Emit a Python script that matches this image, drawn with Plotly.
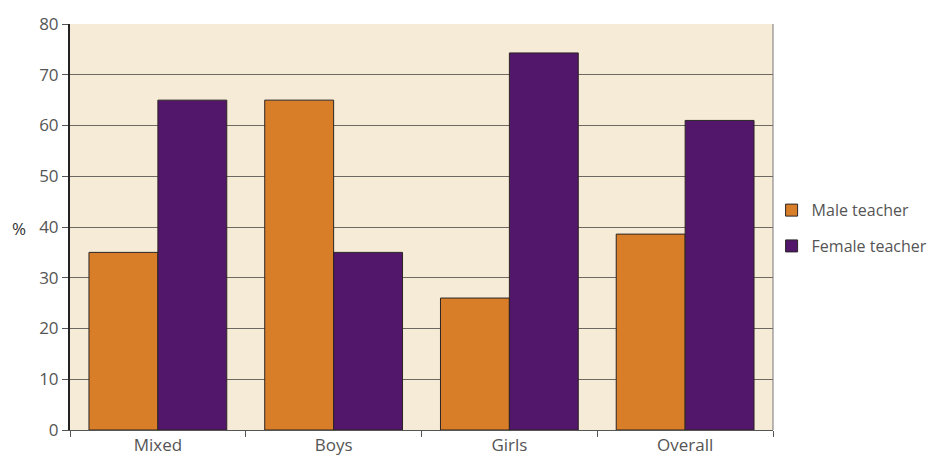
import plotly.graph_objects as go

categories = ["Mixed", "Boys", "Girls", "Overall"]
male = [35, 65, 26, 38.6]
female = [65, 35, 74.3, 61]
series_names = ["Male teacher", "Female teacher"]

fig = go.Figure()
fig.add_trace(go.Bar(x=categories, y=male, name=series_names[0], legendgroup="m",
                     marker=dict(color="#D87E28", line=dict(color="#2b2525", width=1))))
fig.add_trace(go.Bar(x=categories, y=female, name=series_names[1], legendgroup="f",
                     marker=dict(color="#52166A", line=dict(color="#2b2525", width=1))))

fig.update_layout(
    width=947, height=455,
    margin=dict(l=70, r=174, t=24, b=25),
    paper_bgcolor="white", plot_bgcolor="#F5EBD6",
    barmode="group", bargap=0.216, bargroupgap=0,
    font=dict(family="Open Sans", size=17, color="#555555"),
    legend=dict(x=0.998, y=0.497, yanchor="middle", xanchor="left",
                bgcolor="rgba(0,0,0,0)",
                font=dict(size=16, color="#555555"), tracegroupgap=12,
                traceorder="grouped"),
    showlegend=True,
)
fig.update_xaxes(tickson="boundaries", ticks="outside", ticklen=6, tickcolor="#555555",
                 showline=True, linecolor="#555555", linewidth=1, mirror=False,
                 showgrid=False, automargin=False, tickfont=dict(size=17, color="#555555"))
fig.update_yaxes(range=[0, 80], dtick=10, ticks="outside", ticklen=6, tickcolor="#555555",
                 showline=True, linecolor="#222222", linewidth=2,
                 showgrid=True, gridcolor="#6e6862", gridwidth=1,
                 zeroline=False, automargin=False, tickfont=dict(size=17, color="#555555"))
fig.add_shape(type="line", xref="paper", yref="paper", x0=1, x1=1, y0=0, y1=1,
              line=dict(color="#777777", width=1))
fig.add_annotation(text="%", xref="paper", yref="paper", x=-0.072, y=0.497,
                   showarrow=False, font=dict(size=17, color="#333333"), xanchor="center")
fig.write_html("out.html")
